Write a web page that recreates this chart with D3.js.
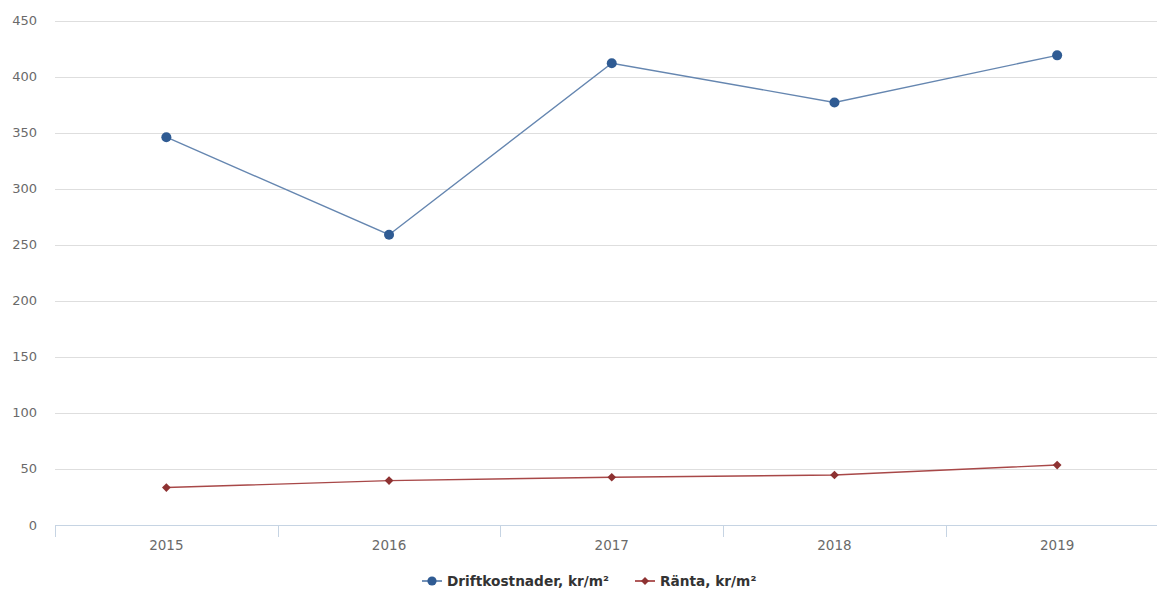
<!DOCTYPE html>
<html>
<head>
<meta charset="utf-8">
<script src="https://cdn.jsdelivr.net/npm/d3@7"></script>
<style>
  html, body { margin: 0; padding: 0; background: #fff; }
  svg { display: block; }
</style>
</head>
<body>
<svg id="chart" width="1157" height="589"></svg>
<script>
const categories = ["2015", "2016", "2017", "2018", "2019"];
const driftkostnader = [346, 259, 412, 377, 419];
const ranta = [33.4, 39.6, 42.6, 44.6, 53.5];
const yTicks = [0, 50, 100, 150, 200, 250, 300, 350, 400, 450];
const seriesNames = ["Driftkostnader, kr/m²", "Ränta, kr/m²"];

const svg = d3.select("#chart");
const font = "'DejaVu Sans', Verdana, sans-serif";

const x = d3.scaleBand().domain(categories).range([55, 1168.5]).paddingInner(0).paddingOuter(0);
const y = d3.scaleLinear().domain([0, 450]).range([525, 20.6]);

// gridlines
svg.append("g").selectAll("line").data(yTicks.filter(d => d !== 0)).join("line")
  .attr("x1", 55).attr("x2", 1168)
  .attr("y1", d => Math.round(y(d)) + 0.5).attr("y2", d => Math.round(y(d)) + 0.5)
  .attr("stroke", "#dedede").attr("stroke-width", 1);

// y labels
svg.append("g").selectAll("text").data(yTicks).join("text")
  .attr("x", 37).attr("y", d => y(d) + 4.5)
  .attr("text-anchor", "end")
  .attr("font-family", font).attr("font-size", 13).attr("fill", "#6a6a6a")
  .text(d => d);

// x axis line
svg.append("line")
  .attr("x1", 55).attr("x2", 1168).attr("y1", 525.5).attr("y2", 525.5)
  .attr("stroke", "#c6d4e3").attr("stroke-width", 1);

// x tick marks at band boundaries
svg.append("g").selectAll("line").data(categories).join("line")
  .attr("x1", d => Math.round(x(d)) + 0.5).attr("x2", d => Math.round(x(d)) + 0.5)
  .attr("y1", 525).attr("y2", 537)
  .attr("stroke", "#c6d4e3").attr("stroke-width", 1);

// x labels
svg.append("g").selectAll("text").data(categories).join("text")
  .attr("x", d => x(d) + x.bandwidth() / 2).attr("y", 549.5)
  .attr("text-anchor", "middle")
  .attr("font-family", font).attr("font-size", 13.5).attr("fill", "#6a6a6a")
  .text(d => d);

const cx = d => x(d) + x.bandwidth() / 2;
const line = d3.line().x(d => cx(d.c)).y(d => y(d.v));

const driftData = categories.map((c, i) => ({ c, v: driftkostnader[i] }));
const rantaData = categories.map((c, i) => ({ c, v: ranta[i] }));

const blueLine = "#6586b0", blueMark = "#2f5b93";
const redLine = "#a84848", redMark = "#8e3232";

svg.append("path").datum(driftData).attr("d", line)
  .attr("fill", "none").attr("stroke", blueLine).attr("stroke-width", 1.4);
svg.append("path").datum(rantaData).attr("d", line)
  .attr("fill", "none").attr("stroke", redLine).attr("stroke-width", 1.4);

svg.append("g").selectAll("circle").data(driftData).join("circle")
  .attr("cx", d => cx(d.c)).attr("cy", d => y(d.v)).attr("r", 5)
  .attr("fill", blueMark);

svg.append("g").selectAll("path").data(rantaData).join("path")
  .attr("d", d3.symbol().type(d3.symbolSquare).size(38))
  .attr("transform", d => `translate(${cx(d.c)},${y(d.v)}) rotate(45)`)
  .attr("fill", redMark);

// legend
const legend = svg.append("g");
const items = [
  { name: seriesNames[0], x0: 422, lineC: blueLine, markC: blueMark, type: "circle" },
  { name: seriesNames[1], x0: 635, lineC: redLine, markC: redMark, type: "diamond" }
];
const ly = 581;
items.forEach(it => {
  const g = legend.append("g");
  g.append("line").attr("x1", it.x0).attr("x2", it.x0 + 20).attr("y1", ly).attr("y2", ly)
    .attr("stroke", it.lineC).attr("stroke-width", 1.8);
  if (it.type === "circle") {
    g.append("circle").attr("cx", it.x0 + 10).attr("cy", ly).attr("r", 4.6).attr("fill", it.markC);
  } else {
    g.append("path").attr("d", d3.symbol().type(d3.symbolSquare).size(32))
      .attr("transform", `translate(${it.x0 + 10},${ly}) rotate(45)`).attr("fill", it.markC);
  }
  g.append("text").attr("x", it.x0 + 25).attr("y", ly + 5)
    .attr("font-family", font).attr("font-size", 13.7).attr("font-weight", "bold").attr("fill", "#333")
    .text(it.name);
});
</script>
</body>
</html>
